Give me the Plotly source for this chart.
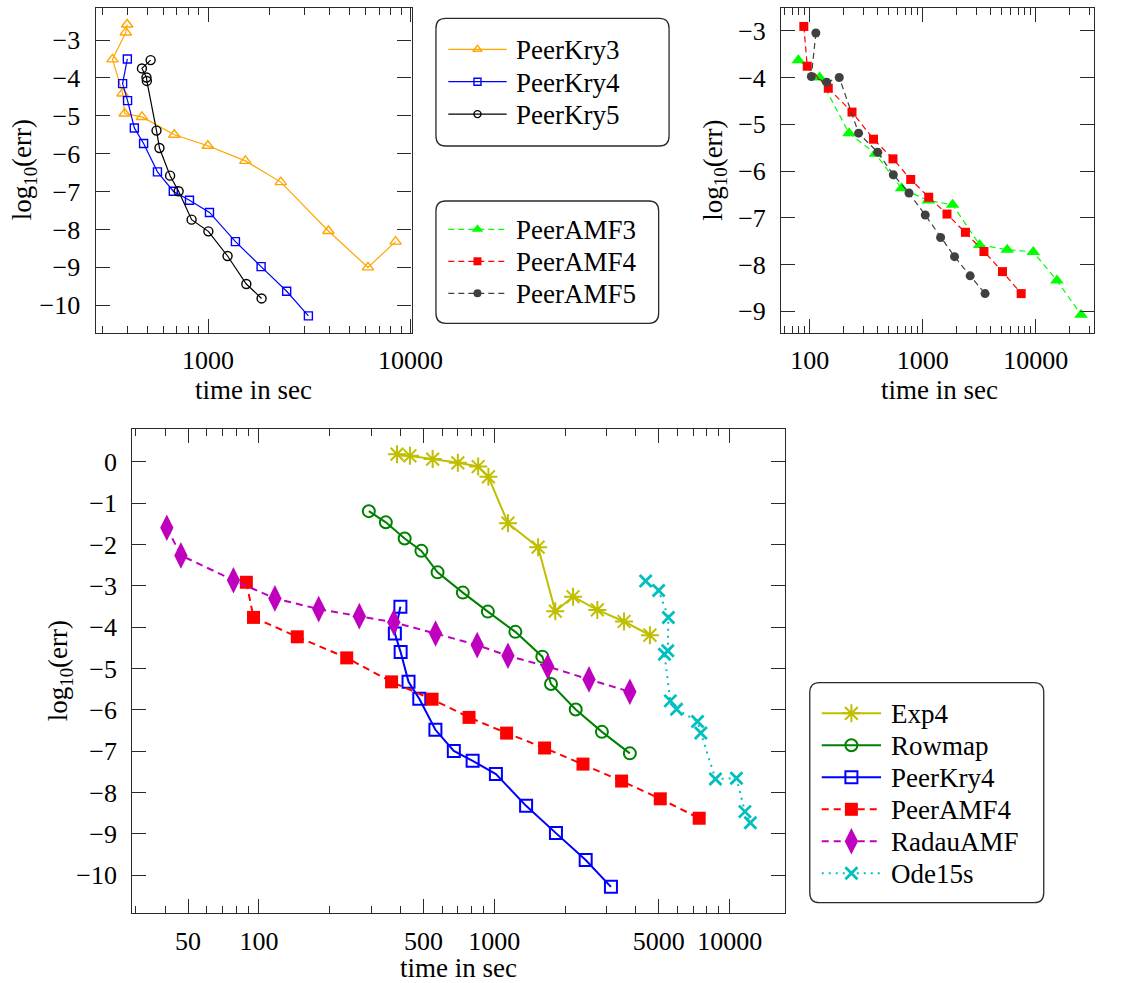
import plotly.graph_objects as go

FONT = "Liberation Serif, Times New Roman, DejaVu Serif, serif"
FS = 26        # tick labels
FS_TXT = 27    # legend entries and axis titles
W, H = 1126, 983

# ---------------- data: time in sec / log10(err) ----------------
kry3_t = [398, 392, 337, 378, 387, 471, 681, 997, 1528, 2287, 3933, 6166, 8443]
kry3_err = [-2.59, -2.80, -3.51, -4.41, -4.94, -5.03, -5.50, -5.79, -6.19, -6.75, -8.04, -9.00, -8.32]

kry4_t = [399, 378, 400, 432, 480, 562, 673, 809, 1016, 1365, 1828, 2445, 3131]
kry4_err = [-3.50, -4.15, -4.60, -5.32, -5.73, -6.48, -6.99, -7.23, -7.55, -8.32, -8.98, -9.63, -10.28]

kry5_t = [520, 471, 496, 498, 556, 575, 649, 715, 829, 1003, 1248, 1545, 1838]
kry5_err = [-3.53, -3.75, -3.99, -4.08, -5.39, -5.85, -6.58, -6.99, -7.74, -8.05, -8.70, -9.44, -9.82]

amf3_t = [79, 122, 222, 381, 648, 1116, 1834, 3182, 5585, 9495, 15380, 25160]
amf3_err = [-3.63, -4.00, -5.19, -5.63, -6.37, -6.63, -6.72, -7.58, -7.68, -7.73, -8.34, -9.07]

amf4_t = [88.4, 94.8, 145.5, 236, 366, 544, 781, 1128, 1636, 2382, 3475, 5073, 7424]
amf4_err = [-2.91, -3.76, -4.23, -4.74, -5.32, -5.74, -6.18, -6.56, -6.92, -7.31, -7.72, -8.15, -8.62]

amf5_t = [113, 103, 141, 182, 270, 399, 548, 754, 1051, 1436, 1909, 2624, 3557]
amf5_err = [-3.05, -3.98, -4.10, -4.00, -5.19, -5.60, -6.08, -6.47, -6.94, -7.42, -7.83, -8.24, -8.62]

exp4_t = [386, 438, 547, 700, 854, 944, 1143, 1535, 1816, 2161, 2741, 3559, 4584]
exp4_err = [0.19, 0.15, 0.07, -0.02, -0.11, -0.36, -1.48, -2.06, -3.61, -3.26, -3.58, -3.86, -4.19]

rowmap_t = [293, 346, 416, 490, 574, 735, 939, 1229, 1600, 1742, 2218, 2866, 3767]
rowmap_err = [-1.19, -1.46, -1.85, -2.15, -2.67, -3.16, -3.62, -4.11, -4.71, -5.37, -5.99, -6.53, -7.05]

radau_t = [40.6, 46.6, 77.9, 116.9, 179.4, 267, 374, 563, 846, 1143, 1687, 2526, 3767]
radau_err = [-1.59, -2.26, -2.86, -3.30, -3.56, -3.73, -3.88, -4.15, -4.43, -4.69, -4.95, -5.26, -5.56]

ode15s_t = [4398, 4992, 5491, 5460, 5286, 5597, 5948, 7305, 7545, 8704, 10690, 11610, 12250]
ode15s_err = [-2.88, -3.11, -3.76, -4.57, -4.65, -5.78, -5.98, -6.28, -6.56, -7.67, -7.65, -8.46, -8.73]

# tick positions
tl_major = [1000, 10000]
tl_minor = [300, 400, 500, 600, 700, 800, 900, 2000, 3000, 4000, 5000, 6000, 7000, 8000, 9000]
tr_major = [100, 1000, 10000]
tr_minor = [60, 70, 80, 90, 200, 300, 400, 500, 600, 700, 800, 900,
            2000, 3000, 4000, 5000, 6000, 7000, 8000, 9000, 20000, 30000]
bt_major = [50, 100, 500, 1000, 5000, 10000]
bt_minor = [30, 40, 60, 70, 80, 90, 200, 300, 400, 600, 700, 800, 900,
            2000, 3000, 4000, 6000, 7000, 8000, 9000]

tl_yticks = [-3, -4, -5, -6, -7, -8, -9, -10]
tr_yticks = [-3, -4, -5, -6, -7, -8, -9]
bt_yticks = [0, -1, -2, -3, -4, -5, -6, -7, -8, -9, -10]


def px_x(p):
    return p / W


def px_y(p):
    return 1 - p / H


AX = "#2a2a2a"
fig = go.Figure()

# styles: (color, symbol, marker size, line width, dash, marker outline width, legend marker size)
DASH_TOP = "6px,4px"
DASH_BOT = "7px,5px"
S_KRY3 = ("#FFA500", "triangle-up-open", 10, 1.2, "solid", 1.4, 8)
S_KRY4 = ("#0000FF", "square-open", 8, 1.2, "solid", 1.4, 7)
S_KRY5 = ("#000000", "circle-open", 9, 1.2, "solid", 1.4, 7)
S_AMF3 = ("#00FF00", "triangle-up", 12, 1.2, DASH_TOP, 0, 10)
S_AMF4 = ("#FF0000", "square", 9, 1.2, DASH_TOP, 0, 8)
S_AMF5 = ("#404040", "circle", 9, 1.2, DASH_TOP, 0, 8)
B_EXP4 = ("#BFBF00", "asterisk-open", 15, 2, "solid", 2.0, 15)
B_ROW = ("#008000", "circle-open", 12, 2, "solid", 2, 12)
B_KRY4 = ("#0000FF", "square-open", 12, 2, "solid", 2, 12)
B_AMF4 = ("#FF0000", "square", 13, 2, DASH_BOT, 0, 13)
B_RADAU = ("#BF00BF", "diamond-tall", 19, 2, DASH_BOT, 0, 19)
B_ODE = ("#00BFBF", "x-thin-open", 12, 2, "2px,5px", 2.8, 12)


def trace(x, y, style, xa, ya):
    color, symbol, msize, lw, dash, mline, _ = style
    return go.Scatter(
        x=x, y=y, mode="lines+markers", showlegend=False, cliponaxis=False,
        line=dict(color=color, width=lw, dash=dash),
        marker=dict(symbol=symbol, size=msize, color=color,
                    line=dict(color=color, width=mline)),
        xaxis=xa, yaxis=ya,
    )


# top-left: PeerKry methods
fig.add_trace(trace(kry3_t, kry3_err, S_KRY3, "x", "y"))
fig.add_trace(trace(kry4_t, kry4_err, S_KRY4, "x", "y"))
fig.add_trace(trace(kry5_t, kry5_err, S_KRY5, "x", "y"))

# top-right: PeerAMF methods
fig.add_trace(trace(amf3_t, amf3_err, S_AMF3, "x2", "y2"))
fig.add_trace(trace(amf4_t, amf4_err, S_AMF4, "x2", "y2"))
fig.add_trace(trace(amf5_t, amf5_err, S_AMF5, "x2", "y2"))

# bottom: comparison of all solvers
fig.add_trace(trace(exp4_t, exp4_err, B_EXP4, "x3", "y3"))
fig.add_trace(trace(rowmap_t, rowmap_err, B_ROW, "x3", "y3"))
fig.add_trace(trace(kry4_t, kry4_err, B_KRY4, "x3", "y3"))
fig.add_trace(trace(amf4_t, amf4_err, B_AMF4, "x3", "y3"))
fig.add_trace(trace(radau_t, radau_err, B_RADAU, "x3", "y3"))
fig.add_trace(trace(ode15s_t, ode15s_err, B_ODE, "x3", "y3"))


# ---------------- legends (drawn on a pixel-space overlay axis) ----------------
def legend_block(entries, line_x0, line_x1, text_x, row0, row_step):
    mx = (line_x0 + line_x1) / 2
    for i, (name, style) in enumerate(entries):
        yy = row0 + i * row_step
        color, symbol, msize, lw, dash, mline, lsize = style
        fig.add_trace(go.Scatter(
            x=[line_x0, line_x1], y=[yy, yy], mode="lines", showlegend=False,
            line=dict(color=color, width=lw, dash=dash), xaxis="x4", yaxis="y4",
            hoverinfo="skip"))
        fig.add_trace(go.Scatter(
            x=[mx], y=[yy], mode="markers", showlegend=False,
            marker=dict(symbol=symbol, size=lsize, color=color,
                        line=dict(color=color, width=mline)),
            xaxis="x4", yaxis="y4", hoverinfo="skip"))
        fig.add_annotation(x=text_x, y=yy + 1, xref="x4", yref="y4", text=name,
                           showarrow=False, xanchor="left", yanchor="middle",
                           font=dict(family=FONT, size=FS_TXT, color="black"))


legend_block([("PeerKry3", S_KRY3), ("PeerKry4", S_KRY4), ("PeerKry5", S_KRY5)],
             461, 521, 529, 49.3, 32.4)
legend_block([("PeerAMF3", S_AMF3), ("PeerAMF4", S_AMF4), ("PeerAMF5", S_AMF5)],
             461, 521, 529, 229.3, 32.0)
legend_block([("Exp4", B_EXP4), ("Rowmap", B_ROW), ("PeerKry4", B_KRY4),
              ("PeerAMF4", B_AMF4), ("RadauAMF", B_RADAU), ("Ode15s", B_ODE)],
             845, 906, 914, 713.3, 32.0)


def xaxis(dom, rng, major, minor, anchor):
    return dict(
        domain=dom, type="log", range=rng, showgrid=False, zeroline=False, anchor=anchor,
        showline=True, linecolor=AX, linewidth=1.3, mirror="allticks",
        ticks="inside", ticklen=14, tickwidth=1.2, tickcolor=AX,
        tickmode="array", tickvals=major, ticktext=[str(v) for v in major],
        tickfont=dict(family=FONT, size=FS, color="black"),
        ticklabelstandoff=4,
        minor=dict(tickmode="array", tickvals=minor, ticks="inside", ticklen=7,
                   tickwidth=1, tickcolor=AX, showgrid=False),
    )


def yaxis(dom, rng, ticks, anchor):
    return dict(
        domain=dom, range=rng, showgrid=False, zeroline=False, anchor=anchor,
        showline=True, linecolor=AX, linewidth=1.3, mirror="allticks",
        ticks="inside", ticklen=14, tickwidth=1.2, tickcolor=AX,
        tickmode="array", tickvals=ticks,
        tickfont=dict(family=FONT, size=FS, color="black"),
        ticklabelstandoff=9,
    )


top_dom = [px_y(333), px_y(8.3)]
bot_dom = [px_y(913.3), px_y(429.3)]

fig.update_layout(
    width=W, height=H, autosize=False, margin=dict(l=0, r=0, t=0, b=0, pad=0),
    paper_bgcolor="white", plot_bgcolor="rgba(0,0,0,0)",
    font=dict(family=FONT, size=FS, color="black"),
    showlegend=False, hovermode=False,
    xaxis=xaxis([px_x(98.3), px_x(423.3)], [2.444, 4.006], tl_major, tl_minor, "y"),
    yaxis=yaxis(top_dom, [-10.732, -2.163], tl_yticks, "x"),
    xaxis2=xaxis([px_x(803.3), px_x(1125)], [1.746, 4.5155], tr_major, tr_minor, "y2"),
    yaxis2=yaxis(top_dom, [-9.462, -2.522], tr_yticks, "x2"),
    xaxis3=xaxis([px_x(136), px_x(807.5)], [1.4616, 4.2364], bt_major, bt_minor, "y3"),
    yaxis3=yaxis(bot_dom, [-10.92, 0.791], bt_yticks, "x3"),
    xaxis4=dict(domain=[0, 1], range=[0, W], visible=False, fixedrange=True, anchor="y4"),
    yaxis4=dict(domain=[0, 1], range=[H, 0], visible=False, fixedrange=True, anchor="x4"),
)


def rounded_box(x0, y0, x1, y1, r=10):
    # rounded rectangle given in pixel units of the overlay axis
    path = (f"M{x0 + r},{y0} L{x1 - r},{y0} Q{x1},{y0} {x1},{y0 + r} "
            f"L{x1},{y1 - r} Q{x1},{y1} {x1 - r},{y1} "
            f"L{x0 + r},{y1} Q{x0},{y1} {x0},{y1 - r} "
            f"L{x0},{y0 + r} Q{x0},{y0} {x0 + r},{y0} Z")
    fig.add_shape(type="path", path=path, xref="x4", yref="y4",
                  line=dict(color=AX, width=1.3), fillcolor="rgba(0,0,0,0)")


rounded_box(448.3, 18.3, 688, 146)
rounded_box(448.3, 201, 677.3, 323.3)
rounded_box(832.7, 682.7, 1073.3, 902.7)

# axis titles
titles = [
    (261, 390, "time in sec", 0),
    (966, 390, "time in sec", 0),
    (471, 968, "time in sec", 0),
    (25, 170, "log<sub>10</sub>(err)", -90),
    (735, 170, "log<sub>10</sub>(err)", -90),
    (62, 671, "log<sub>10</sub>(err)", -90),
]
for x, y, txt, ang in titles:
    fig.add_annotation(x=x, y=y, xref="x4", yref="y4", text=txt,
                       showarrow=False, textangle=ang, xanchor="center", yanchor="middle",
                       font=dict(family=FONT, size=FS_TXT, color="black"))

# keep the page exactly the size of the figure
page_css = ("document.documentElement.style.margin='0';"
            "document.documentElement.style.overflow='hidden';"
            "document.body.style.margin='0';"
            "document.body.style.padding='0';"
            "document.body.style.overflow='hidden';")

fig.write_html("out.html", config={"responsive": False, "displayModeBar": False},
               post_script=page_css)
